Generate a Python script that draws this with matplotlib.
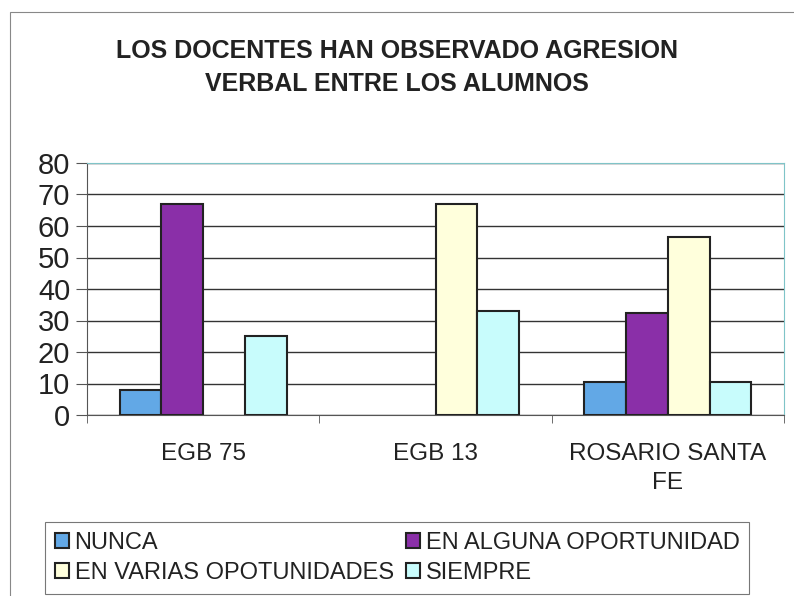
import matplotlib
matplotlib.use('Agg')
import matplotlib.pyplot as plt
import numpy as np
from matplotlib.patches import Rectangle, Patch

plt.rcParams['font.family'] = ['Liberation Sans', 'DejaVu Sans']

# data
categories = ['EGB 75', 'EGB 13', 'ROSARIO SANTA\nFE']
series = ['NUNCA', 'EN ALGUNA OPORTUNIDAD', 'EN VARIAS OPOTUNIDADES', 'SIEMPRE']
nunca = [8, 0, 10.5]
alguna = [67, 0, 32.5]
varias = [0, 67, 56.5]
siempre = [25, 33, 10.5]
colors = ['#62a8e6', '#8a2fa8', '#ffffdc', '#c8fcfc']

fig = plt.figure(figsize=(7.94, 5.96), dpi=100)
fig.patches.append(Rectangle((10/794, -0.01), 1.0, 1 - 12/596 + 0.01, transform=fig.transFigure,
                             fill=False, edgecolor='#888888', lw=0.8))

ax = fig.add_axes([87/794, 1 - 415/596, (784 - 87)/794, (415 - 163)/596])

x = np.arange(len(categories))
w = 0.18
vals = [nunca, alguna, varias, siempre]
for i, v in enumerate(vals):
    b = ax.bar(x + (i - 1.5) * w, v, w, color=colors[i], edgecolor='#222222', lw=1.5,
               label=series[i], zorder=3)
    # empty bars draw nothing in the original
    for p, val in zip(b.patches, v):
        if val == 0:
            p.set_linewidth(0)

ax.set_xlim(-0.5, 2.5)
ax.set_ylim(0, 80)
ax.set_yticks(range(0, 81, 10))
ax.yaxis.grid(True, color='#333333', lw=1)
ax.set_axisbelow(True)
ax.set_xticks(x)
ax.set_xticklabels(categories, fontsize=17.5, color='#222222', linespacing=1.45)
ax.set_xticks([-0.5, 0.5, 1.5, 2.5], minor=True)
ax.tick_params(axis='x', which='major', length=0, pad=20)
ax.tick_params(axis='x', which='minor', length=6, color='#555555')
ax.tick_params(axis='y', labelsize=21, length=8, color='#555555', labelcolor='#222222', pad=4)
ax.spines['top'].set_color('#7fc4c8')
ax.spines['right'].set_color('#7fc4c8')
ax.spines['left'].set_color('#555555')
ax.spines['bottom'].set_color('#555555')

fig.text(0.5, 1 - 51/596, 'LOS DOCENTES HAN OBSERVADO AGRESION', ha='center', va='center',
         fontsize=18, fontweight='bold', color='#222222')
fig.text(0.5, 1 - 84/596, 'VERBAL ENTRE LOS ALUMNOS', ha='center', va='center',
         fontsize=18, fontweight='bold', color='#222222')

# legend, filled row by row
handles = [Patch(facecolor=colors[i], edgecolor='#222222', lw=1.5) for i in range(4)]
order = [0, 2, 1, 3]
leg = fig.legend([handles[i] for i in order], [series[i] for i in order], ncol=2,
                 loc='center', bbox_to_anchor=(397/794, 1 - 558/596), fontsize=17,
                 frameon=True, fancybox=False, edgecolor='#555555', handlelength=0.6,
                 handleheight=0.6, handletextpad=0.25, columnspacing=0.5, labelspacing=0.35,
                 borderpad=0.4)
leg.get_frame().set_linewidth(0.8)
for t in leg.get_texts():
    t.set_color('#222222')

fig.savefig('out.png', dpi=100)
